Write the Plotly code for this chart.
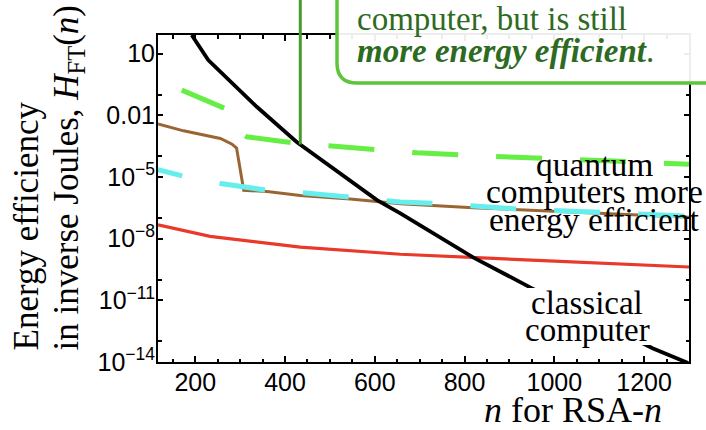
import numpy as np
import plotly.graph_objects as go

# ---- data: n for RSA-n and log10 of energy efficiency (inverse Joules) ----
classical_n = [192, 229, 337, 426, 605, 657, 819, 946, 1220, 1298]
classical_log = [1.9, 0.68, -1.59, -3.30, -6.13, -6.77, -8.91, -10.37, -13.34, -14.05]

green_n = [170, 267, 291, 307, 315, 419, 504, 608, 694, 798, 983, 1261, 1300]
green_log = [-0.78, -1.67, -1.90, -2.95, -3.05, -3.35, -3.49, -3.70, -3.83, -3.94, -4.10, -4.34, -4.38]

cyan_n = [117, 173, 257, 360, 445, 545, 657, 734, 824, 924, 1013, 1113, 1202, 1300]
cyan_log = [-4.65, -4.96, -5.32, -5.65, -5.78, -5.97, -6.22, -6.29, -6.43, -6.57, -6.64, -6.75, -6.82, -6.91]

brown_n = [117, 174, 256, 282, 292, 299, 308, 360, 434, 545, 657, 819, 1013, 1198, 1300]
brown_log = [-2.42, -2.76, -3.13, -3.41, -3.60, -4.51, -5.65, -5.71, -5.90, -6.08, -6.30, -6.50, -6.70, -6.88, -6.96]

red_n = [117, 233, 434, 657, 975, 1300]
red_log = [-7.33, -7.89, -8.41, -8.76, -9.07, -9.38]

x_ticks = [200, 400, 600, 800, 1000, 1200]
y_ticks = [10, 0.01, 1e-5, 1e-8, 1e-11, 1e-14]
y_tick_text = ["10", "0.01", "10<sup>\u22125</sup>", "10<sup>\u22128</sup>",
               "10<sup>\u221211</sup>", "10<sup>\u221214</sup>"]
y_minor = [0.1, 1e-4, 1e-7, 1e-10, 1e-13]

X_RANGE = [117, 1300]
Y_RANGE = [-14, 1.9]   # log10 units

# ---- page geometry (pixels) ----
W, H = 706, 430
ML, MR, MT, MB = 158, 17, 35, 68
PW, PH = W - ML - MR, H - MT - MB


def px(x):
    return (x - ML) / PW


def py(y):
    return (H - MB - y) / PH


def log_to_paper(v):
    return (v - Y_RANGE[0]) / (Y_RANGE[1] - Y_RANGE[0])


SERIF = "Liberation Serif, Times New Roman, serif"
SANS = "Liberation Sans, Arial, sans-serif"

fig = go.Figure()


def add_curve(n, logs, color, width, dash="solid"):
    fig.add_trace(go.Scatter(
        x=n, y=10.0 ** np.array(logs), mode="lines",
        line=dict(color=color, width=width, dash=dash),
        hoverinfo="skip", showlegend=False))


add_curve(red_n, red_log, "#e8392a", 3.2)
add_curve(brown_n, brown_log, "#996633", 3)
cyan_dash = "25px,38px," + ",".join(["46px,38px"] * 12)
add_curve(cyan_n, cyan_log, "#66eeee", 5, cyan_dash)
add_curve(green_n, green_log, "#66ee44", 5, "46px,38px")
add_curve(classical_n, classical_log, "#000000", 3.8)

# leader line from the callout down to the classical curve
leader_n = 434
leader_log = float(np.interp(leader_n, classical_n, classical_log))

shapes = [
    dict(type="line", xref="x", yref="paper", x0=leader_n, x1=leader_n,
         y0=log_to_paper(leader_log), y1=py(-20),
         line=dict(color="#4a9a2c", width=3), layer="above"),
    # rounded callout box (runs off the top and right of the page)
    dict(type="path", xref="paper", yref="paper",
         path=(f"M {px(337)},{py(-20)} L {px(337)},{py(63)} "
               f"Q {px(337)},{py(83)} {px(357)},{py(83)} "
               f"L {px(730)},{py(83)} L {px(730)},{py(-20)} Z"),
         fillcolor="rgba(255,255,255,0.93)",
         line=dict(color="#5ec43c", width=3.5), layer="above"),
    # white backing behind the "classical computer" label
    dict(type="rect", xref="paper", yref="paper",
         x0=px(527), x1=px(657), y0=py(345), y1=py(288),
         fillcolor="white", line=dict(width=0), layer="above"),
]

ann = []
green_txt = "#2e6b22"
ann.append(dict(text="computer, but is still", x=px(355), y=py(19),
                xanchor="left", yanchor="middle",
                font=dict(family=SERIF, size=33, color=green_txt)))
ann.append(dict(text="<b><i>more energy efficient</i></b>.", x=px(355), y=py(51),
                xanchor="left", yanchor="middle",
                font=dict(family=SERIF, size=33, color=green_txt)))

for txt, yc in [("quantum", 164), ("computers more", 191), ("energy efficient", 219)]:
    ann.append(dict(text=txt, x=px(594), y=py(yc), xanchor="center", yanchor="middle",
                    font=dict(family=SERIF, size=33.5, color="black")))

for txt, yc in [("classical", 303), ("computer", 330)]:
    ann.append(dict(text=txt, x=px(587), y=py(yc), xanchor="center", yanchor="middle",
                    font=dict(family=SERIF, size=33, color="black")))

# axis titles
ann.append(dict(text="<i>n</i> for RSA-<i>n</i>", x=px(664), y=py(410),
                xanchor="right", yanchor="middle",
                font=dict(family=SERIF, size=36, color="black")))
ann.append(dict(text="Energy efficiency", x=px(26), y=py(353), textangle=-90,
                xanchor="center", yanchor="bottom",
                font=dict(family=SERIF, size=35, color="black")))
ann.append(dict(text="in inverse Joules, <i>H</i><sub>FT</sub>(<i>n</i>)", x=px(68), y=py(353),
                textangle=-90, xanchor="center", yanchor="bottom",
                font=dict(family=SERIF, size=35, color="black")))

for a in ann:
    a.update(xref="paper", yref="paper", showarrow=False)

axis_common = dict(showline=True, linecolor="black", linewidth=2, mirror="ticks",
                   ticks="inside", tickcolor="black", tickwidth=1.5,
                   showgrid=False, zeroline=False,
                   tickfont=dict(family=SANS, size=25, color="black"))

fig.update_layout(
    width=W, height=H,
    margin=dict(l=ML, r=MR, t=MT, b=MB, pad=0),
    paper_bgcolor="white", plot_bgcolor="white",
    shapes=shapes, annotations=ann,
    xaxis=dict(range=X_RANGE, tickmode="array", tickvals=x_ticks, ticklen=6,
               ticklabelstandoff=-3,
               minor=dict(dtick=50, tick0=0, ticks="inside", ticklen=3.5,
                          tickcolor="black", tickwidth=1.5),
               **axis_common),
    yaxis=dict(type="log", range=Y_RANGE, tickmode="array", tickvals=y_ticks,
               ticktext=y_tick_text, ticklen=5, ticklabelstandoff=-4,
               minor=dict(tickmode="array", tickvals=y_minor, ticks="inside",
                          ticklen=3.5, tickcolor="black", tickwidth=1.5),
               **axis_common),
)

fig.write_html("out.html")
